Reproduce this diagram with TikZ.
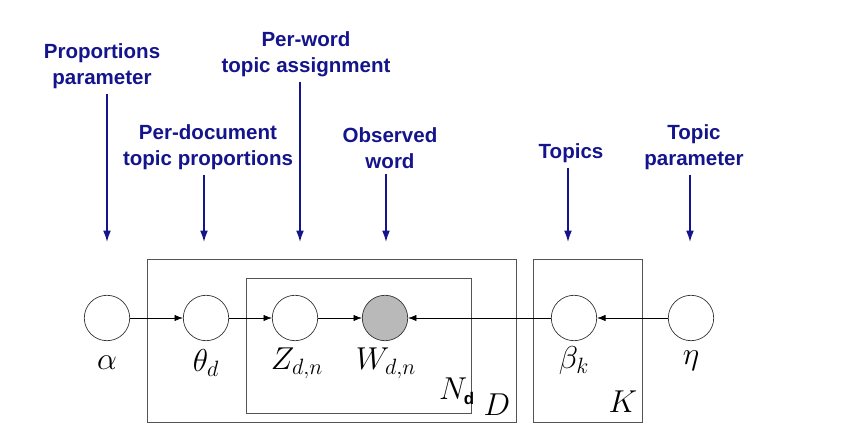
\documentclass[tikz,border=0pt]{standalone}
\usepackage{fix-cm}
\usepackage{fontspec}
\usepackage{amsmath}
\usepackage{xcolor}
\setsansfont{Liberation Sans}
\usetikzlibrary{arrows.meta,calc,positioning}
\definecolor{navy}{rgb}{0.08, 0.08, 0.55}
\definecolor{platec}{rgb}{0.33, 0.33, 0.33}

\begin{document}
\begin{tikzpicture}[x=0.025cm,y=-0.025cm,
    place/.style={circle,draw=black!80,line width=0.5pt,minimum size=1.135cm,inner sep=0pt},
    plate/.style={draw=platec,line width=0.7pt},
    note/.style={text=navy,font=\sffamily\bfseries\fontsize{14.6}{18.5}\selectfont,align=center},
    notearrow/.style={-{Latex[length=8pt,width=5.5pt]},draw=navy,line width=1pt},
    lbl/.style={font=\fontsize{22.5}{26}\selectfont},
    edge/.style={-{Latex[length=6pt,width=4.5pt]},line width=0.5pt}]
        \useasboundingbox (0,0) rectangle (842,438);
        %%%%%%%%%%%%%%%%%%%%%%%%%%%plates%%%%%%%%%%%%%%%%%%%%%%
          \draw[plate] (147,259) rectangle (516,422);
          \draw[plate] (246,278) rectangle (471,413);
          \draw[plate] (533,259) rectangle (642,422);
        %%%%%%%%%%%%%%%%%%%%%%%%%%%nodes%%%%%%%%%%%%%%%%%%%%%%
          \node (alpha) at (107,318) [place] {};
          \node (theta) at (206,318) [place] {};
          \node (z) at (295,318) [place] {};
          \node[fill=gray!55] (w) at (385,318) [place] {};
          \node (beta) at (574,318) [place] {};
          \node (eta) at (691,318) [place] {};

          \node[lbl] (la) at (107,363) {$\alpha$};
          \node[lbl] (lt) at (206,363) {$\theta_d$};
          \node[lbl] (lz) at (297,363) {$Z_{d,n}$};
          \node[lbl] (lw) at (386,363) {$W_{d,n}$};
          \node[lbl] (lb) at (574,361) {$\beta_k$};
          \node[lbl] (le) at (691,361) {$\eta$};
          \node[lbl] (ln) at (457,391) {$N_{\text{\sffamily\bfseries\fontsize{12}{12}\selectfont d}}$};
          \node[lbl] (ld) at (497,405) {$D$};
          \node[lbl] (lk) at (623,402) {$K$};

          \draw[edge] (alpha) -- (theta);
          \draw[edge] (theta) -- (z);
          \draw[edge] (z) -- (w);
          \draw[edge] (beta) -- (w);
          \draw[edge] (eta) -- (beta);
        %%%%%%%%%%%%%%%%%%%%%%%%%%%notes%%%%%%%%%%%%%%%%%%%%%%
          \node[note] (pp) at (102,66) {Proportions\\parameter};
          \node[note] (pw) at (306,54) {Per-word\\topic assignment};
          \node[note] (pd) at (208,147) {Per-document\\topic proportions};
          \node[note] (ow) at (390,148) {Observed\\word};
          \node[note] (tp) at (571,153) {Topics};
          \node[note] (tpp) at (694,147) {Topic\\parameter};

          \coordinate (ta) at (107,242);
          \coordinate (tt) at (204,242);
          \coordinate (tz) at (300,242);
          \coordinate (tw) at (386,242);
          \coordinate (tb) at (568,242);
          \coordinate (te) at (690,242);

          \draw[notearrow] (ta |- pp.south) -- (ta);
          \draw[notearrow] (tt |- pd.south) -- (tt);
          \draw[notearrow] (tz |- pw.south) -- (tz);
          \draw[notearrow] (tw |- ow.south) -- (tw);
          \draw[notearrow] (tb |- tp.south) -- (tb);
          \draw[notearrow] (te |- tpp.south) -- (te);
        \end{tikzpicture}
\end{document}
